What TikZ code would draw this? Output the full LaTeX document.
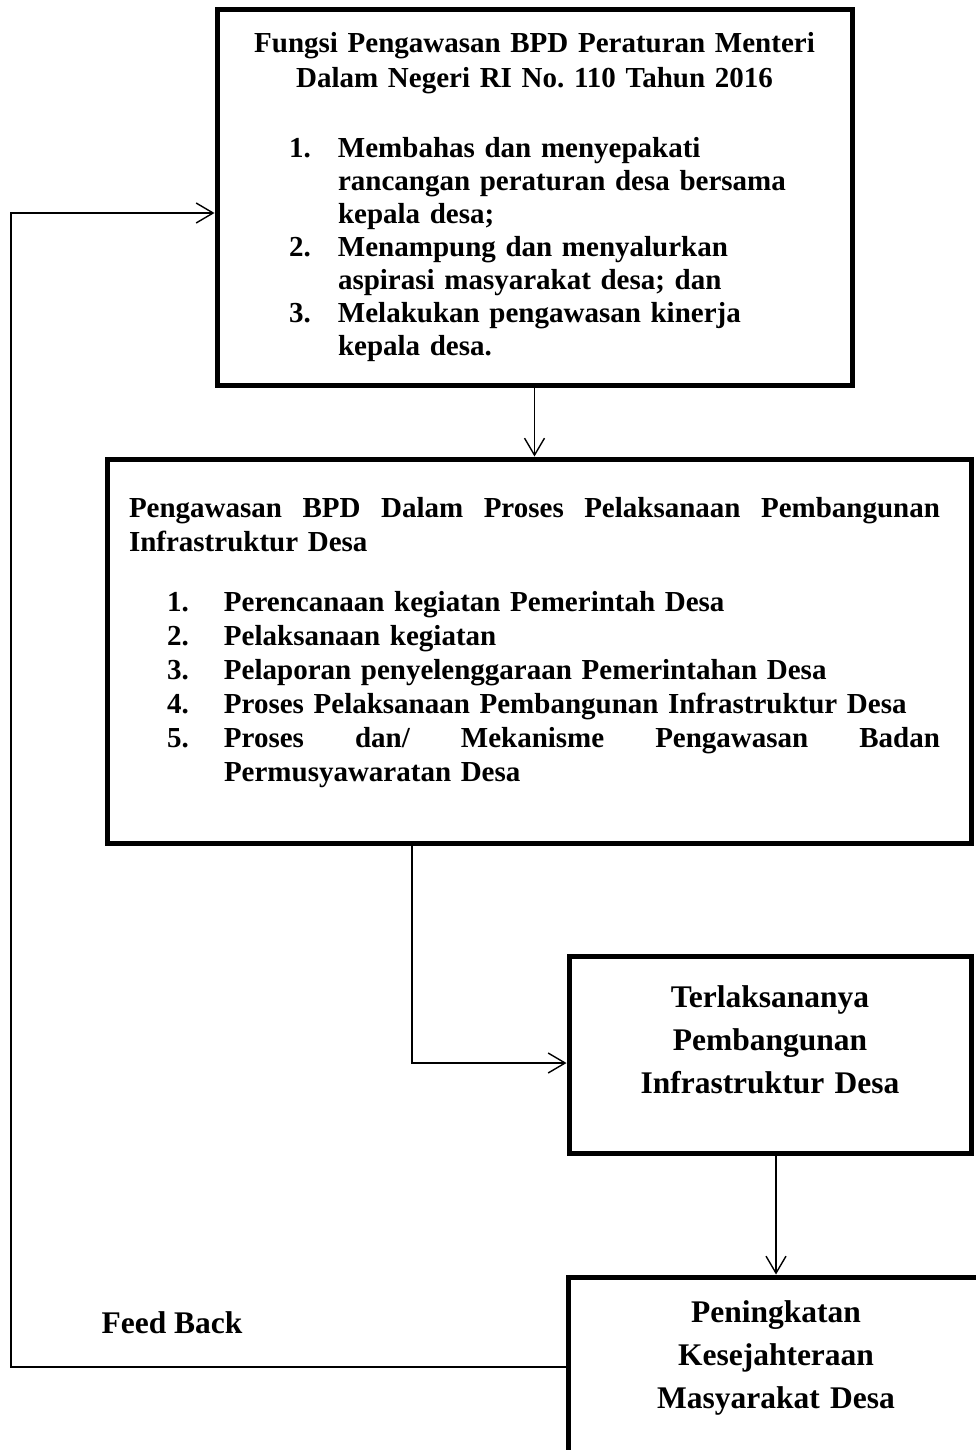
\documentclass[tikz,border=0pt]{standalone}
\usepackage{fontspec}
\setmainfont{Liberation Serif}
\frenchspacing
\usetikzlibrary{arrows.meta,positioning}
\newcommand{\itemline}[4]{\par\noindent\hspace*{#1}\makebox[#2][l]{#3}#4}
\tikzset{
  box/.style={draw, line width=5pt, inner sep=0pt},
  smalltext/.style={font=\bfseries\fontsize{29}{33}\selectfont},
  bigtext/.style={font=\bfseries\fontsize{31.5}{43}\selectfont},
  conn/.style={line width=1.4pt, -{Straight Barb[length=17pt,width=20pt]}}
}
\begin{document}
\begin{tikzpicture}[x=1pt, y=-1pt]
\useasboundingbox (0,0) rectangle (975,1450);
\node[box, smalltext, minimum width=635, minimum height=375, text width=600] (b1) at (534.5,197.5) {%
{\centering Fungsi Pengawasan BPD Peraturan Menteri\par\vspace{2pt}Dalam Negeri RI No. 110 Tahun 2016\par}
\vspace{37pt}
\itemline{54.5pt}{49pt}{1.}{Membahas dan menyepakati}
\itemline{54.5pt}{49pt}{}{rancangan peraturan desa bersama}
\itemline{54.5pt}{49pt}{}{kepala desa;}
\itemline{54.5pt}{49pt}{2.}{Menampung dan menyalurkan}
\itemline{54.5pt}{49pt}{}{aspirasi masyarakat desa; dan}
\itemline{54.5pt}{49pt}{3.}{Melakukan pengawasan kinerja}
\itemline{54.5pt}{49pt}{}{kepala desa.}};
\node[box, smalltext, font=\bfseries\fontsize{29}{34}\selectfont, minimum width=864, minimum height=384, text width=820] (b2) at (539,651) {%
\noindent\makebox[811pt][l]{Pengawasan\hfill BPD\hfill Dalam\hfill Proses\hfill Pelaksanaan\hfill Pembangunan}\par
\noindent Infrastruktur Desa\par
\vspace{26pt}
\itemline{38pt}{57pt}{1.}{Perencanaan kegiatan Pemerintah Desa}
\itemline{38pt}{57pt}{2.}{Pelaksanaan kegiatan}
\itemline{38pt}{57pt}{3.}{Pelaporan penyelenggaraan Pemerintahan Desa}
\itemline{38pt}{57pt}{4.}{Proses Pelaksanaan Pembangunan Infrastruktur Desa}
\itemline{38pt}{57pt}{5.}{\makebox[716pt][l]{Proses\hfill dan/\hfill Mekanisme\hfill Pengawasan\hfill Badan}}
\itemline{38pt}{57pt}{}{Permusyawaratan Desa\rule[-23pt]{0pt}{0pt}}};
\node[box, bigtext, minimum width=402, minimum height=197, text width=380, align=center] (b3) at (770,1054.5) {Terlaksananya\\ Pembangunan\\ Infrastruktur Desa\rule[-29pt]{0pt}{0pt}};
\node[box, bigtext, minimum width=416, minimum height=200, text width=390, align=center] (b4) at (776,1377) {Peningkatan\\ Kesejahteraan\\ Masyarakat Desa\rule[-45pt]{0pt}{0pt}};
\node[bigtext, anchor=base] (fbtext) at (172,1333) {Feed Back};
\coordinate (turn) at (412,1063);
\coordinate (fb) at (11,1367);
\coordinate (fbtop) at (11,213);
\draw[conn] (b1.south) -- (b1.south |- b2.north);
\draw[conn] (b2.south -| turn) -- (turn) -- (turn -| b3.west);
\draw[conn] (b4.north |- b3.south) -- (b4.north);
\draw[conn] (fb -| b4.west) -- (fb) -- (fbtop) -- (fbtop -| b1.west);
\end{tikzpicture}
\end{document}
